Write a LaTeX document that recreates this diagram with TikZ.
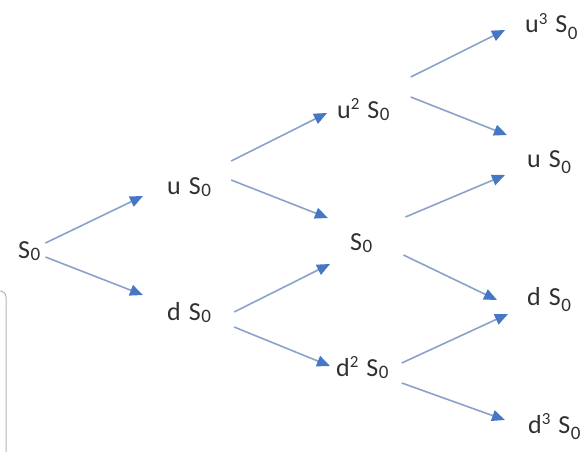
\documentclass[tikz,border=0pt]{standalone}
\usepackage{fontspec}
\setmainfont{Carlito}
\usetikzlibrary{arrows.meta}
\definecolor{treeLine}{HTML}{8AA2CA}
\definecolor{treeHead}{HTML}{4677C4}
\definecolor{treeText}{HTML}{303030}
\definecolor{treeFrame}{HTML}{B4B4B4}
\newcommand\treefont{\fontsize{26}{30}\selectfont\spaceskip=8pt\relax}
\newcommand\supx[1]{\raisebox{0.7ex}{\fontsize{17}{17}\selectfont #1}}
\newcommand\subx[1]{\kern0.5pt\raisebox{-0.2ex}{\fontsize{19}{19}\selectfont #1}}
\newcommand\subl[1]{\kern0.5pt\raisebox{-0.55ex}{\fontsize{19}{19}\selectfont #1}}

\begin{document}
\begin{tikzpicture}[x=1pt,y=-1pt,
  lbl/.style={anchor=base west, inner sep=0pt, text=treeText, font=\treefont},
  arr/.style={treeLine, line width=1.6pt,
    -{Triangle[length=13pt,width=11pt,color=treeHead]}}]

\useasboundingbox (0,0) rectangle (587,452);

% --- FRAME EDGE (left, cut off) ---
\draw[treeFrame, line width=1pt, rounded corners=6pt] (0,291) -- (6,291) -- (6,452);

% --- NODES (step 0 .. step 3) ---
\node[lbl] (s0)   at (18,258)  {S\subx{0}};
\node[lbl] (u1)   at (167,194) {u S\subx{0}};
\node[lbl] (d1)   at (167,320) {d S\subx{0}};
\node[lbl] (uu2)  at (337,118) {u\supx{2} S\subx{0}};
\node[lbl] (s2)   at (350,250) {S\subx{0}};
\node[lbl] (dd2)  at (336,376) {d\supx{2} S\subx{0}};
\node[lbl] (uuu3) at (525,33)  {u\supx{3} S\subl{0}};
\node[lbl] (u3)   at (527,167) {u S\subl{0}};
\node[lbl] (d3)   at (527,305) {d S\subl{0}};
\node[lbl] (ddd3) at (528,433) {d\supx{3} S\subl{0}};

% --- ARROWS (source/target/start shift/end shift) ---
\foreach \a/\b/\sx/\sy/\tx/\ty in {
  s0/u1/5/-15/-24/2,
  s0/d1/5/-1/-24/-25,
  u1/uu2/20/-33/-10/-5,
  u1/s2/20/-14/-22/-32,
  d1/s2/23/-8/-20/14,
  d1/dd2/23/7/-6/-10,
  uu2/uuu3/21/-41/-20/-3,
  uu2/u3/21/-21/-20/-32,
  s2/u3/33/-33/-22/8,
  s2/d3/31/5/-30/-5,
  dd2/d3/13/-13/-19/9,
  dd2/ddd3/13/7/-23/-13%
}{
  \draw[arr] ([shift={(\sx,\sy)}]\a.base east) -- ([shift={(\tx,\ty)}]\b.base west);
}

\end{tikzpicture}
\end{document}
